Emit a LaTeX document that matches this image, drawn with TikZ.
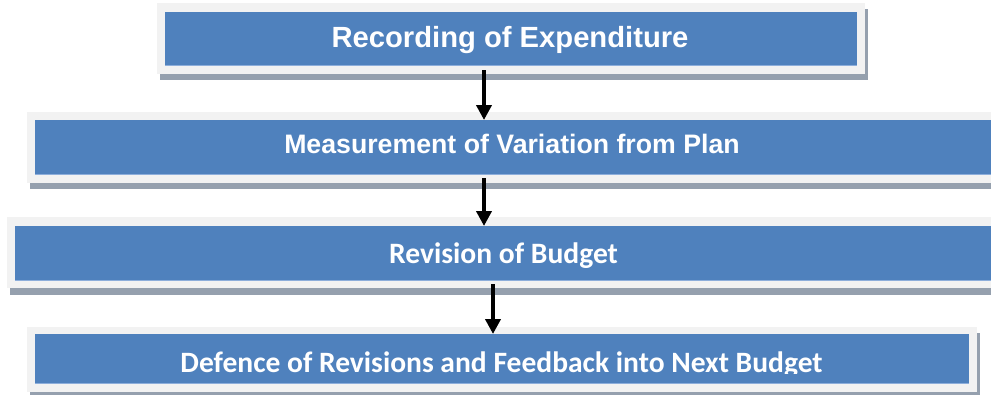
\documentclass[tikz,border=0pt]{standalone}
\usepackage{fontspec}
\setmainfont{Liberation Sans}
\newfontfamily\calibfont{Carlito}
\usetikzlibrary{calc,arrows.meta}
\definecolor{boxblue}{HTML}{4F81BD}
\definecolor{edgeblue}{HTML}{8DAEDB}
\definecolor{framegrey}{HTML}{F2F2F2}
\definecolor{shadowgrey}{HTML}{95A0AE}
\begin{document}
\begin{tikzpicture}[x=1pt,y=-1pt,
  bluebox/.style={fill=boxblue, draw=none, inner sep=0pt, outer sep=0pt, anchor=north west},
  arialtext/.style={text=white, anchor=base, inner sep=0pt, font=\fontsize{#1}{#1}\selectfont\bfseries},
  calibtext/.style={text=white, anchor=base, inner sep=0pt, font=\calibfont\fontsize{#1}{#1}\selectfont\bfseries},
  arr/.style={-{Triangle[length=15pt,width=15pt]}, line width=4pt, black}]
\useasboundingbox (0,0) rectangle (991,394);
\clip (0,0) rectangle (991,394);
% ---- box 1
\fill[shadowgrey] (160,9) rectangle (868,80);
\fill[framegrey] (157,3) rectangle (865,74);
\node[bluebox, minimum width=692pt, minimum height=54pt] (b1) at (165,12) {};
\draw[edgeblue, line width=1pt] ($(b1.south west)+(0,-0.5)$) -- ($(b1.south east)+(0,-0.5)$);
\node[arialtext=29.2] (t1) at (510,47.5) {Recording of Expenditure};
% ---- box 2
\fill[shadowgrey] (30,118) rectangle (1013,189);
\fill[framegrey] (27,112) rectangle (1010,183);
\node[bluebox, minimum width=965pt, minimum height=55pt] (b2) at (35,120) {};
\draw[edgeblue, line width=1pt] ($(b2.south west)+(0,-0.5)$) -- ($(b2.south east)+(0,-0.5)$);
\node[arialtext=26.7] (t2) at (512,153.5) {Measurement of Variation from Plan};
% ---- box 3
\fill[shadowgrey] (10,223) rectangle (1013,295);
\fill[framegrey] (7,217) rectangle (1010,288);
\node[bluebox, minimum width=985pt, minimum height=55pt] (b3) at (15,226) {};
\draw[edgeblue, line width=1pt] ($(b3.south west)+(0,-0.5)$) -- ($(b3.south east)+(0,-0.5)$);
\node[calibtext=29.6] (t3) at (503.5,263.5) {Revision of Budget};
% ---- box 4
\fill[shadowgrey] (30,333) rectangle (980,398);
\fill[framegrey] (27,327) rectangle (977,392);
\node[bluebox, minimum width=934pt, minimum height=50pt] (b4) at (35,334) {};
\draw[edgeblue, line width=1pt] ($(b4.south west)+(0,-0.5)$) -- ($(b4.south east)+(0,-0.5)$);
\begin{scope}
  \clip (0,0) rectangle (991,373.5);
  \node[calibtext=29.55] (t4) at (501.5,372) {Defence of Revisions and Feedback into Next Budget};
\end{scope}
% ---- arrows
\coordinate (a1) at (484,70);
\coordinate (a2) at (484,178);
\coordinate (a3) at (493,284);
\draw[arr] (a1) -- (a1 |- b2.north);
\draw[arr] (a2) -- (a2 |- b3.north);
\draw[arr] (a3) -- (a3 |- b4.north);
\end{tikzpicture}
\end{document}
